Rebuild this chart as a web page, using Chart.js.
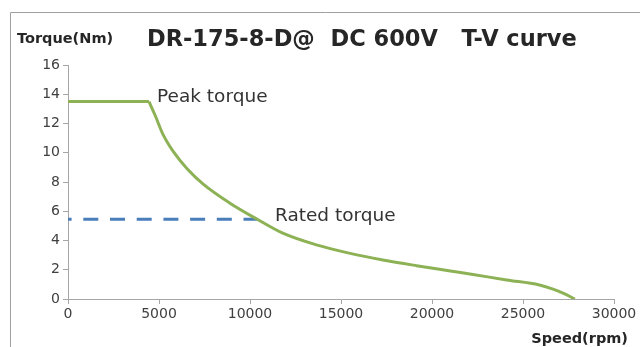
<!DOCTYPE html>
<html>
<head>
<meta charset="utf-8">
<script src="https://cdn.jsdelivr.net/npm/chart.js@4.4.1/dist/chart.umd.min.js"></script>
<style>
html,body{margin:0;padding:0;background:#fff}
#wrap{position:relative;width:640px;height:347px}
</style>
</head>
<body>
<div id="wrap"><canvas id="c" width="640" height="347"></canvas></div>
<script>
// T-V curve
const SPEED=[0,4450,4780,5240,5790,6520,7430,8900,10400,11800,13650,15500,17300,19150,21000,22250,24100,25900,26650,27200,27850];
const TORQUE=[13.5,13.5,12.58,11.2,10.07,8.94,7.85,6.55,5.45,4.5,3.7,3.12,2.67,2.28,1.92,1.68,1.30,0.96,0.68,0.4,0];
const RATED_SPEED=[0,10400];
const RATED_TORQUE=[5.45,5.45];
const X_TICKS=[0,5000,10000,15000,20000,25000,30000];
const Y_TICKS=[0,2,4,6,8,10,12,14,16];
const TITLE='DR-175-8-D@  DC 600V   T-V curve';
const Y_NAME='Torque(Nm)',X_NAME='Speed(rpm)';
const NOTES=[{text:'Peak torque',x:4890,y:13.5,dy:-4},{text:'Rated torque',x:11370,y:5.45,dy:-3}];

const FONT='"DejaVu Sans", sans-serif';
const TXT='#262626',TICK='#404040',AX='#a6a6a6',GREEN='#8db255';
const pts=(xs,ys)=>xs.map((s,i)=>({x:s,y:ys[i]}));

const decor={
  id:'decor',
  beforeDraw(ch){
    const c=ch.ctx;c.save();
    c.strokeStyle='#a0a0a0';c.lineWidth=1;
    c.beginPath();c.moveTo(10.5,347);c.lineTo(10.5,12.5);c.lineTo(640,12.5);c.stroke();
    c.restore();
  },
  afterDraw(ch){
    const c=ch.ctx,xs=ch.scales.x,ys=ch.scales.y;c.save();
    c.fillStyle=TXT;c.textBaseline='middle';
    c.font='bold 22.5px '+FONT;c.textAlign='left';c.fillText(TITLE,147,40);
    c.font='bold 14.5px '+FONT;c.fillText(Y_NAME,17,39);
    c.textAlign='right';c.fillText(X_NAME,628,339);
    c.font='18.5px '+FONT;c.textAlign='left';c.fillStyle='#333';
    NOTES.forEach(n=>c.fillText(n.text,xs.getPixelForValue(n.x),ys.getPixelForValue(n.y)+n.dy));
    c.restore();
  }
};

new Chart(document.getElementById('c'),{
  type:'scatter',
  data:{datasets:[
    {data:pts(SPEED.slice(0,2),TORQUE.slice(0,2)),showLine:true,borderColor:GREEN,borderWidth:3,pointRadius:0,tension:0},
    {data:pts(SPEED.slice(1),TORQUE.slice(1)),showLine:true,borderColor:GREEN,borderWidth:3,pointRadius:0,cubicInterpolationMode:'monotone'},
    {data:pts(RATED_SPEED,RATED_TORQUE),showLine:true,borderColor:'#4a7ebb',borderWidth:3,borderDash:[15,11.7],borderDashOffset:11.4,pointRadius:0}
  ]},
  options:{
    responsive:false,animation:false,
    layout:{padding:{left:0,right:26,top:65,bottom:0}},
    plugins:{legend:{display:false},tooltip:{enabled:false},title:{display:false}},
    scales:{
      x:{type:'linear',min:0,max:30000,
        afterBuildTicks:s=>{s.ticks=X_TICKS.map(v=>({value:v}))},
        afterFit:s=>{s.height=48},
        ticks:{color:TICK,font:{family:FONT,size:14},padding:2,maxRotation:0,callback:v=>String(v)},
        grid:{drawOnChartArea:false,tickLength:5,color:AX},
        border:{color:AX,width:1}},
      y:{type:'linear',min:0,max:16,
        afterBuildTicks:s=>{s.ticks=Y_TICKS.map(v=>({value:v}))},
        afterFit:s=>{s.width=68},
        ticks:{color:TICK,font:{family:FONT,size:14},padding:3,callback:v=>String(v)},
        grid:{drawOnChartArea:false,tickLength:5,color:AX},
        border:{color:AX,width:1}}
    }
  },
  plugins:[decor]
});
</script>
</body>
</html>
